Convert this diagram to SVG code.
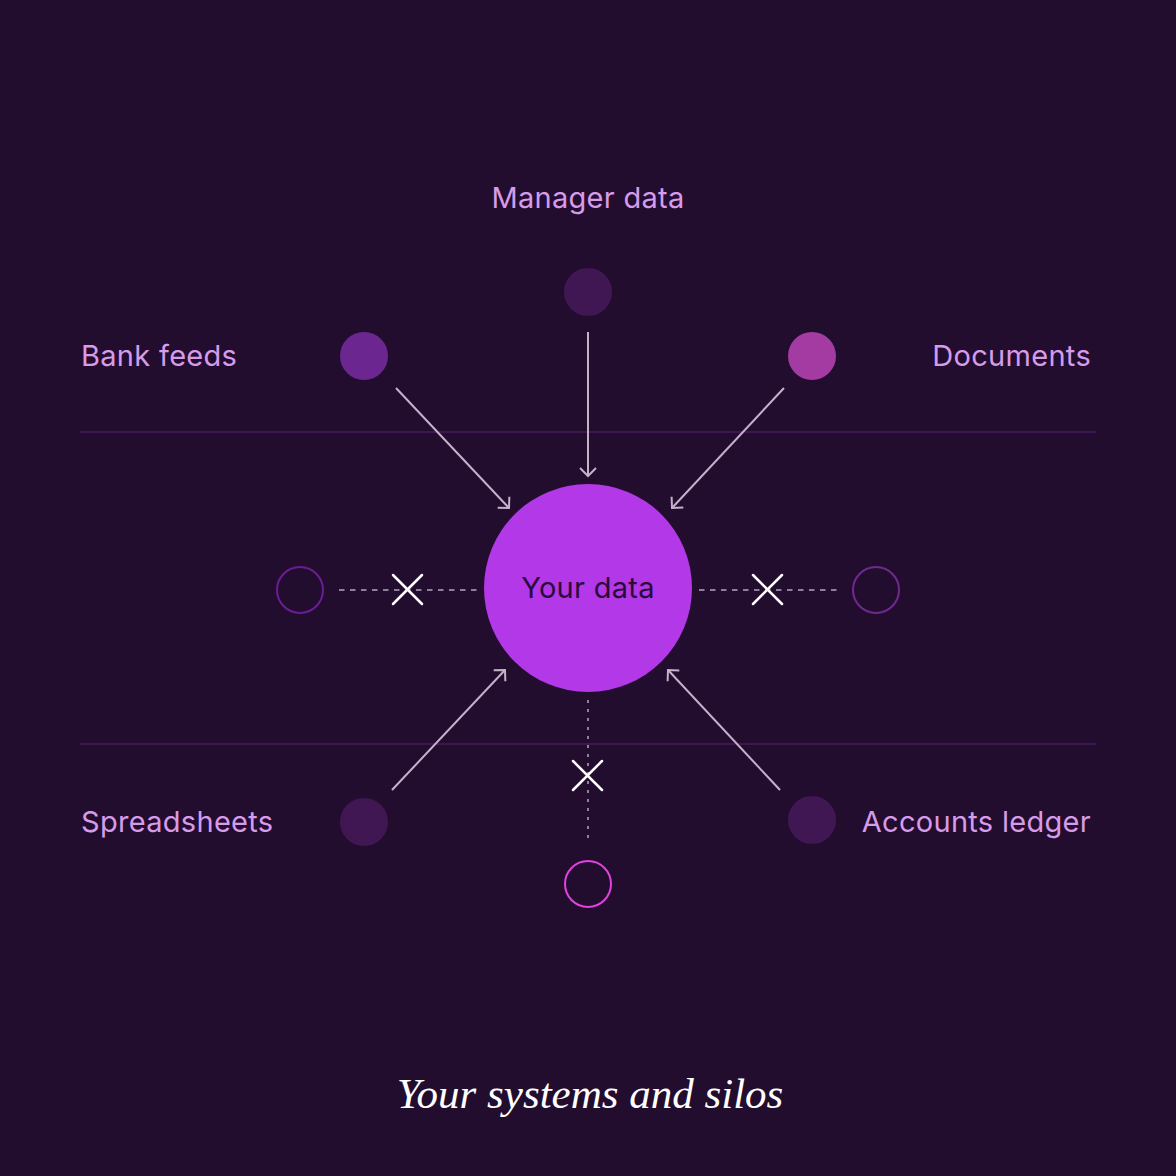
<svg xmlns="http://www.w3.org/2000/svg" width="1176" height="1176" viewBox="0 0 1176 1176">
  <defs>
    <style>
      .label { font-family: Inter, "Noto Sans", sans-serif; font-size: 29px; letter-spacing: 0.3px; fill: #d69be9; }
      .center-label { font-family: Inter, "Noto Sans", sans-serif; font-size: 29px; letter-spacing: 0.3px; fill: #2a0a3a; }
      .title { font-family: "Liberation Serif", "DejaVu Serif", serif; font-style: italic; font-size: 43px; fill: #ffffff; }
      .divider { stroke: #3e1650; stroke-width: 2; }
      .arrow { stroke: #c3b3c9; stroke-width: 2; fill: none; marker-end: url(#chev); }
      .dashed { stroke: #8f7f99; stroke-width: 2; stroke-dasharray: 5.5 5.5; fill: none; }
      .dotted { stroke: #8f7f99; stroke-width: 2; stroke-dasharray: 3 6; fill: none; }
      .cross { stroke: #ffffff; stroke-width: 2.5; stroke-linecap: round; }
      .ring { fill: none; stroke-width: 2; }
    </style>
    <marker id="chev" markerUnits="userSpaceOnUse" markerWidth="20" markerHeight="20" refX="10" refY="10" orient="auto" viewBox="0 0 20 20">
      <path d="M2,2 L10,10 L2,18" fill="none" stroke="#c3b3c9" stroke-width="2"/>
    </marker>
  </defs>
  <rect width="1176" height="1176" fill="#230d2f"/>

  <g id="dividers">
    <line class="divider" x1="80" y1="432" x2="1096" y2="432"/>
    <line class="divider" x1="80" y1="744" x2="1096" y2="744"/>
  </g>

  <g id="connectors">
    <line class="arrow" x1="588" y1="332" x2="588" y2="476"/>
    <line class="arrow" x1="396" y1="388" x2="509" y2="508"/>
    <line class="arrow" x1="784" y1="388" x2="672" y2="508"/>
    <line class="arrow" x1="392" y1="790" x2="505" y2="670"/>
    <line class="arrow" x1="780" y1="790" x2="668" y2="670"/>
    <line class="dashed" x1="339" y1="590" x2="477" y2="590"/>
    <line class="dashed" x1="699" y1="590" x2="837" y2="590"/>
    <line class="dotted" x1="588" y1="700" x2="588" y2="843"/>
    <g id="crosses">
      <line class="cross" x1="393" y1="604" x2="422" y2="575"/>
      <line class="cross" x1="393" y1="575" x2="422" y2="604"/>
      <line class="cross" x1="753" y1="604" x2="782" y2="575"/>
      <line class="cross" x1="753" y1="575" x2="782" y2="604"/>
      <line class="cross" x1="573" y1="790" x2="602" y2="761"/>
      <line class="cross" x1="573" y1="761" x2="602" y2="790"/>
    </g>
  </g>

  <g id="your-data">
    <circle cx="588" cy="588" r="104" fill="#b338e7"/>
    <text class="center-label" x="588" y="598" text-anchor="middle">Your data</text>
  </g>

  <g id="manager-data">
    <circle cx="588" cy="292" r="24" fill="#411753"/>
    <text class="label" x="588" y="208" text-anchor="middle">Manager data</text>
  </g>

  <g id="bank-feeds">
    <circle cx="364" cy="356" r="24" fill="#6c2690"/>
    <text class="label" x="81" y="366">Bank feeds</text>
  </g>

  <g id="documents">
    <circle cx="812" cy="356" r="24" fill="#a33ba2"/>
    <text class="label" x="1091" y="366" text-anchor="end">Documents</text>
  </g>

  <g id="spreadsheets">
    <circle cx="364" cy="822" r="24" fill="#411753"/>
    <text class="label" x="81" y="832">Spreadsheets</text>
  </g>

  <g id="accounts-ledger">
    <circle cx="812" cy="820" r="24" fill="#411753"/>
    <text class="label" x="1091" y="832" text-anchor="end">Accounts ledger</text>
  </g>

  <g id="silo-left">
    <circle class="ring" cx="300" cy="590" r="23" stroke="#6a1d95"/>
  </g>
  <g id="silo-right">
    <circle class="ring" cx="876" cy="590" r="23" stroke="#702a8e"/>
  </g>
  <g id="silo-bottom">
    <circle class="ring" cx="588" cy="884" r="23" stroke="#e043e0"/>
  </g>

  <text class="title" x="590" y="1108" text-anchor="middle">Your systems and silos</text>
</svg>
